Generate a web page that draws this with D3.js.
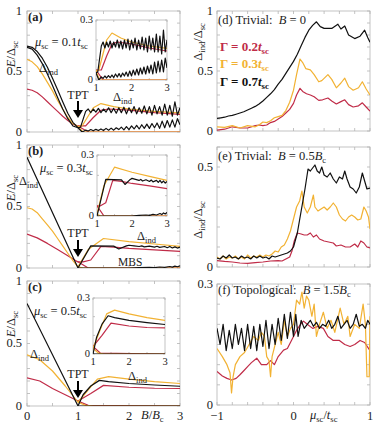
<!DOCTYPE html>
<html>
<head>
<meta charset="UTF-8">
<style>
  body { margin: 0; background: #fff; }
  svg text { fill: #222; white-space: pre; }
  .frame { fill: none; stroke: #b4b4b4; stroke-width: 0.8; }
  .tick { stroke: #b4b4b4; stroke-width: 0.8; }
  .curve { fill: none; stroke-width: 1.2; stroke-linejoin: round; }
</style>
</head>
<body>
<script src="https://cdn.jsdelivr.net/npm/d3@7"></script>
<script>
var RED = "#c02c48", YEL = "#f2b233", BLK = "#111111";
var FONT = "'Liberation Serif', 'DejaVu Serif', serif";

// ---- left column: E / Delta_sc vs B / B_c ----
// (a) mu_sc = 0.1 t_sc
var aBlackUp = [[0,0.71],[0.1,0.7],[0.2,0.665],[0.3,0.61],[0.4,0.535],[0.5,0.445],[0.6,0.35],[0.7,0.25],[0.8,0.155],[0.9,0.08],[1.0,0.035],[1.05,0.04],
  [1.15,0.17],[1.2,0.19],[1.25,0.16],[1.3,0.19],[1.35,0.165],[1.4,0.195],[1.45,0.16],[1.5,0.19],[1.55,0.165],[1.6,0.2],[1.65,0.16],[1.7,0.195],
  [1.75,0.155],[1.8,0.2],[1.85,0.16],[1.9,0.205],[1.95,0.15],[2.0,0.2],[2.05,0.16],[2.1,0.21],[2.15,0.15],[2.2,0.2],[2.25,0.155],[2.3,0.215],
  [2.35,0.15],[2.4,0.21],[2.45,0.14],[2.5,0.22],[2.55,0.15],[2.6,0.21],[2.65,0.14],[2.7,0.23],[2.75,0.14],[2.8,0.22],[2.85,0.13],[2.9,0.25],[2.95,0.14],[3.0,0.2]];
var aBlackLow = [[0,0.7],[0.1,0.685],[0.2,0.635],[0.3,0.565],[0.4,0.48],[0.5,0.385],[0.6,0.285],[0.7,0.19],[0.8,0.11],[0.9,0.05],[1.0,0.035],[1.08,0.0],
  [1.15,0.015],[1.2,0.008],[1.25,0.02],[1.3,0.01],[1.35,0.022],[1.4,0.012],[1.45,0.025],[1.5,0.012],[1.55,0.03],[1.6,0.015],[1.65,0.032],[1.7,0.015],
  [1.75,0.035],[1.8,0.02],[1.85,0.04],[1.9,0.018],[1.95,0.045],[2.0,0.02],[2.05,0.05],[2.1,0.025],[2.15,0.055],[2.2,0.025],[2.25,0.06],[2.3,0.03],
  [2.35,0.065],[2.4,0.03],[2.45,0.07],[2.5,0.035],[2.55,0.075],[2.6,0.03],[2.65,0.09],[2.7,0.035],[2.75,0.095],[2.8,0.04],[2.85,0.1],[2.9,0.04],[2.95,0.11],[3.0,0.06]];
var aYellowUp = [[0,0.6],[0.1,0.58],[0.2,0.54],[0.3,0.48],[0.4,0.41],[0.5,0.34],[0.6,0.26],[0.7,0.19],[0.8,0.12],[0.9,0.07],[1.0,0.045],[1.08,0.05],
  [1.3,0.2],[1.45,0.235],[1.7,0.21],[2.0,0.19],[2.5,0.17],[3.0,0.158]];
var aYellowLow = [[1.0,0.045],[1.1,0.0],[3.0,0.0]];
var aRedUp = [[0,0.355],[0.1,0.345],[0.2,0.325],[0.3,0.29],[0.4,0.25],[0.5,0.21],[0.6,0.17],[0.7,0.13],[0.8,0.095],[0.9,0.065],[1.0,0.05],[1.15,0.05],
  [1.3,0.12],[1.45,0.18],[1.6,0.19],[2.0,0.18],[2.5,0.16],[3.0,0.145]];
var aRedLow = [[1.0,0.05],[1.2,0.0],[3.0,0.0]];

// (b) mu_sc = 0.3 t_sc
var bBlackUp = [[0,0.9],[1.0,0.0],[1.25,0.18],[1.7,0.178],[1.8,0.155],[1.95,0.18],[2.0,0.185],[2.1,0.18],[2.2,0.175],[2.25,0.18],[2.3,0.172],
  [2.4,0.178],[2.5,0.17],[2.55,0.177],[2.6,0.168],[2.7,0.175],[2.75,0.165],[2.8,0.175],[2.85,0.163],[2.9,0.172],[2.95,0.162],[3.0,0.17]];
var bBlackLow = [[1.0,0.0],[2.0,0.0],[2.2,0.003],[2.4,0.005],[2.5,0.003],[2.6,0.008],[2.7,0.005],[2.8,0.012],[2.85,0.007],[2.9,0.015],[2.95,0.01],[3.0,0.018]];
var bYellowUp = [[0,0.49],[0.1,0.48],[0.2,0.45],[0.3,0.4],[0.4,0.35],[0.5,0.3],[0.6,0.24],[0.7,0.18],[0.8,0.12],[0.9,0.06],[1.0,0.01],
  [1.2,0.15],[1.5,0.24],[2.0,0.215],[2.5,0.195],[3.0,0.175]];
var bYellowLow = [[1.0,0.01],[1.1,0.0],[3.0,0.0]];
var bRedUp = [[0,0.275],[0.2,0.245],[0.4,0.2],[0.6,0.15],[0.8,0.1],[0.95,0.06],[1.0,0.05],[1.1,0.05],[1.25,0.065],[1.45,0.175],[1.7,0.17],
  [2.0,0.16],[2.5,0.148],[3.0,0.135]];
var bRedLow = [[1.0,0.05],[1.2,0.0],[3.0,0.0]];

// (c) mu_sc = 0.5 t_sc
var cBlackUp = [[0,0.82],[1.0,0.0],[1.1,0.09],[1.25,0.16],[1.42,0.205],[1.6,0.195],[2.0,0.18],[2.5,0.168],[3.0,0.158]];
var cBlackLow = [[1.0,0.0],[3.0,0.0]];
var cYellowUp = [[0,0.41],[0.25,0.37],[0.5,0.28],[0.75,0.16],[1.0,0.03],[1.2,0.13],[1.38,0.215],[1.6,0.235],[2.0,0.215],[2.5,0.195],[3.0,0.18]];
var cYellowLow = [[1.0,0.03],[1.15,0.005],[1.3,0.0],[3.0,0.0]];
var cRedUp = [[0,0.225],[0.25,0.2],[0.5,0.14],[0.75,0.09],[1.0,0.04],[1.25,0.1],[1.5,0.165],[2.0,0.15],[2.5,0.142],[3.0,0.14]];
var cRedLow = [[1.0,0.04],[1.2,0.005],[3.0,0.0]];

// ---- right column: Delta_ind / Delta_sc vs mu_sc / t_sc ----
var dBlack = [[-1,0.105],[-0.95,0.11],[-0.9,0.115],[-0.85,0.125],[-0.8,0.13],[-0.75,0.14],[-0.7,0.15],[-0.65,0.16],[-0.6,0.175],[-0.55,0.19],
  [-0.5,0.205],[-0.45,0.225],[-0.4,0.25],[-0.35,0.28],[-0.3,0.31],[-0.25,0.345],[-0.2,0.39],[-0.15,0.43],[-0.1,0.48],[-0.05,0.53],[0,0.58],
  [0.05,0.64],[0.1,0.71],[0.15,0.78],[0.2,0.84],[0.25,0.88],[0.3,0.91],[0.35,0.87],[0.4,0.855],[0.5,0.855],[0.58,0.89],[0.62,0.85],
  [0.67,0.875],[0.72,0.8],[0.8,0.77],[0.87,0.79],[0.93,0.84],[0.97,0.78],[1.0,0.74]];
var dYellow = [[-1,0.035],[-0.9,0.03],[-0.8,0.045],[-0.7,0.025],[-0.6,0.045],[-0.5,0.035],[-0.45,0.05],[-0.4,0.075],[-0.35,0.07],[-0.3,0.085],
  [-0.25,0.11],[-0.2,0.12],[-0.15,0.13],[-0.1,0.17],[-0.05,0.24],[0,0.34],[0.04,0.47],[0.085,0.6],[0.12,0.57],[0.16,0.52],[0.22,0.51],
  [0.27,0.47],[0.33,0.41],[0.37,0.42],[0.45,0.47],[0.5,0.43],[0.56,0.36],[0.62,0.4],[0.67,0.44],[0.72,0.37],[0.78,0.34],[0.85,0.36],
  [0.9,0.41],[0.95,0.35],[1.0,0.3]];
var dRed = [[-1,0.008],[-0.9,0.015],[-0.8,0.035],[-0.7,0.025],[-0.6,0.025],[-0.5,0.045],[-0.45,0.05],[-0.4,0.045],[-0.35,0.05],[-0.3,0.07],
  [-0.25,0.08],[-0.2,0.1],[-0.15,0.12],[-0.1,0.15],[-0.05,0.18],[0,0.23],[0.04,0.3],[0.085,0.355],[0.12,0.33],[0.17,0.31],[0.22,0.3],
  [0.27,0.285],[0.33,0.255],[0.38,0.26],[0.45,0.275],[0.5,0.25],[0.56,0.225],[0.62,0.245],[0.67,0.26],[0.72,0.22],[0.78,0.2],[0.85,0.21],
  [0.9,0.235],[0.95,0.2],[1.0,0.165]];

var eBlack = [[-1,0.045],[-0.96,0.04],[-0.92,0.055],[-0.88,0.045],[-0.84,0.06],[-0.8,0.045],[-0.76,0.05],[-0.72,0.04],[-0.68,0.055],[-0.64,0.045],
  [-0.6,0.05],[-0.56,0.04],[-0.52,0.055],[-0.48,0.045],[-0.44,0.055],[-0.4,0.045],[-0.36,0.05],[-0.32,0.04],[-0.28,0.055],[-0.24,0.05],
  [-0.2,0.055],[-0.16,0.06],[-0.12,0.065],[-0.08,0.07],[-0.04,0.08],[0,0.1],[0.05,0.17],[0.1,0.28],[0.15,0.39],[0.19,0.49],[0.22,0.48],
  [0.26,0.5],[0.28,0.51],[0.31,0.48],[0.34,0.47],[0.37,0.5],[0.4,0.46],[0.44,0.45],[0.48,0.47],[0.52,0.44],[0.56,0.42],[0.6,0.45],
  [0.64,0.44],[0.67,0.48],[0.7,0.44],[0.74,0.4],[0.78,0.39],[0.82,0.37],[0.86,0.4],[0.9,0.47],[0.93,0.43],[0.96,0.39],[1.0,0.395]];
var eYellow = [[-1,0.05],[-0.96,0.04],[-0.92,0.055],[-0.88,0.04],[-0.84,0.05],[-0.8,0.045],[-0.76,0.055],[-0.72,0.04],[-0.68,0.05],[-0.64,0.04],
  [-0.6,0.06],[-0.56,0.045],[-0.52,0.055],[-0.48,0.05],[-0.44,0.06],[-0.4,0.05],[-0.36,0.06],[-0.32,0.055],[-0.28,0.065],[-0.24,0.08],
  [-0.2,0.075],[-0.16,0.1],[-0.12,0.11],[-0.08,0.14],[-0.04,0.18],[0,0.24],[0.04,0.3],[0.08,0.33],[0.11,0.38],[0.14,0.3],[0.18,0.27],
  [0.22,0.3],[0.26,0.36],[0.28,0.3],[0.32,0.28],[0.36,0.29],[0.4,0.3],[0.44,0.285],[0.48,0.3],[0.52,0.32],[0.56,0.3],[0.6,0.26],
  [0.64,0.24],[0.68,0.23],[0.72,0.25],[0.76,0.26],[0.8,0.25],[0.84,0.235],[0.88,0.24],[0.92,0.3],[0.95,0.28],[0.98,0.25],[1.0,0.19]];
var eRed = [[-1,0.032],[-0.9,0.028],[-0.8,0.025],[-0.7,0.02],[-0.6,0.018],[-0.5,0.022],[-0.4,0.025],[-0.3,0.03],[-0.2,0.032],[-0.15,0.03],
  [-0.1,0.04],[-0.05,0.05],[-0.02,0.08],[0.01,0.13],[0.05,0.17],[0.1,0.165],[0.14,0.16],[0.18,0.16],[0.22,0.17],[0.26,0.15],[0.3,0.16],
  [0.34,0.14],[0.4,0.13],[0.46,0.125],[0.52,0.12],[0.56,0.105],[0.62,0.11],[0.68,0.1],[0.74,0.1],[0.8,0.115],[0.84,0.1],[0.88,0.13],
  [0.92,0.12],[0.96,0.1],[1.0,0.095]];

var fBlack = [[-1,0.19],[-0.96,0.15],[-0.92,0.2],[-0.88,0.135],[-0.84,0.185],[-0.8,0.14],[-0.76,0.2],[-0.72,0.15],[-0.68,0.19],[-0.64,0.135],
  [-0.6,0.2],[-0.56,0.14],[-0.52,0.195],[-0.48,0.135],[-0.44,0.2],[-0.4,0.145],[-0.36,0.21],[-0.32,0.14],[-0.28,0.2],[-0.24,0.15],
  [-0.2,0.215],[-0.16,0.16],[-0.12,0.225],[-0.08,0.165],[-0.04,0.23],[0,0.17],[0.03,0.225],[0.06,0.17],[0.1,0.21],[0.14,0.19],[0.18,0.2],
  [0.22,0.21],[0.26,0.195],[0.3,0.205],[0.34,0.19],[0.38,0.2],[0.42,0.195],[0.46,0.21],[0.5,0.19],[0.54,0.2],[0.58,0.22],[0.62,0.19],
  [0.66,0.2],[0.7,0.21],[0.74,0.19],[0.78,0.2],[0.82,0.225],[0.86,0.195],[0.9,0.2],[0.94,0.19],[0.97,0.21],[1.0,0.2]];
var fYellow = [[-1,0.14],[-0.93,0.12],[-0.87,0.1],[-0.83,0.08],[-0.81,0.03],[-0.79,0.07],[-0.76,0.1],[-0.7,0.12],[-0.64,0.13],[-0.58,0.15],
  [-0.52,0.17],[-0.46,0.16],[-0.42,0.18],[-0.38,0.17],[-0.35,0.12],[-0.32,0.11],[-0.3,0.07],[-0.28,0.12],[-0.24,0.15],[-0.2,0.18],
  [-0.16,0.15],[-0.12,0.21],[-0.08,0.17],[-0.04,0.19],[0,0.2],[0.04,0.26],[0.08,0.25],[0.11,0.28],[0.14,0.24],[0.17,0.27],[0.2,0.26],
  [0.24,0.22],[0.27,0.25],[0.3,0.17],[0.34,0.2],[0.39,0.23],[0.44,0.19],[0.49,0.21],[0.54,0.18],[0.61,0.24],[0.66,0.2],[0.71,0.22],
  [0.74,0.17],[0.8,0.2],[0.86,0.19],[0.91,0.25],[0.94,0.2],[0.96,0.07],[0.99,0.07],[1.0,0.22]];
var fRed = [[-1,0.083],[-0.93,0.072],[-0.87,0.066],[-0.81,0.062],[-0.75,0.066],[-0.7,0.075],[-0.65,0.085],[-0.6,0.095],[-0.55,0.105],
  [-0.48,0.116],[-0.42,0.1],[-0.35,0.1],[-0.3,0.11],[-0.25,0.1],[-0.2,0.12],[-0.13,0.136],[-0.08,0.14],[-0.04,0.155],[0,0.17],[0.04,0.185],
  [0.085,0.198],[0.13,0.208],[0.18,0.2],[0.25,0.19],[0.32,0.195],[0.39,0.19],[0.45,0.17],[0.52,0.16],[0.6,0.16],[0.67,0.15],[0.74,0.145],
  [0.8,0.15],[0.87,0.16],[0.93,0.155],[1.0,0.135]];

var svg = d3.select("body").append("svg").attr("width", 390).attr("height", 424);
var defs = svg.append("defs");
var clipCount = 0;

// text with italic / subscript pieces
function mtext(x, y, parts, size, opts) {
  opts = opts || {};
  var t = svg.append("text").attr("x", x).attr("y", y).attr("font-size", size)
    .style("font-family", FONT).attr("text-anchor", opts.anchor || "start");
  if (opts.rotate) t.attr("transform", "rotate(-90," + x + "," + y + ")");
  if (opts.fill) t.style("fill", opts.fill);
  if (opts.bold) t.attr("font-weight", "bold");
  var shift = 0;
  parts.forEach(function(p) {
    var k = p[1] || "";
    var sp = t.append("tspan").text(p[0]);
    var want = k.indexOf("s") >= 0 ? size * 0.25 : 0;
    if (want !== shift) { sp.attr("dy", want - shift); shift = want; }
    if (k.indexOf("s") >= 0) sp.attr("font-size", size * 0.68);
    if (k.indexOf("i") >= 0) sp.attr("font-style", "italic");
  });
  return t;
}

function frame(xs, ys, xt, yt, len) {
  var g = svg.append("g");
  var x0 = xs.range()[0], x1 = xs.range()[1], yb = ys.range()[0], yt0 = ys.range()[1];
  xt.forEach(function(v) {
    g.append("line").attr("class", "tick").attr("x1", xs(v)).attr("x2", xs(v)).attr("y1", yb).attr("y2", yb - len);
    g.append("line").attr("class", "tick").attr("x1", xs(v)).attr("x2", xs(v)).attr("y1", yt0).attr("y2", yt0 + len);
  });
  yt.forEach(function(v) {
    g.append("line").attr("class", "tick").attr("y1", ys(v)).attr("y2", ys(v)).attr("x1", x0).attr("x2", x0 + len);
    g.append("line").attr("class", "tick").attr("y1", ys(v)).attr("y2", ys(v)).attr("x1", x1).attr("x2", x1 - len);
  });
  g.append("rect").attr("class", "frame").attr("x", x0).attr("y", yt0).attr("width", x1 - x0).attr("height", yb - yt0);
  var id = "clip" + (clipCount++);
  defs.append("clipPath").attr("id", id).append("rect")
    .attr("x", x0).attr("y", yt0).attr("width", x1 - x0).attr("height", yb - yt0);
  return "url(#" + id + ")";
}

function curves(xs, ys, clip, list) {
  var line = d3.line().x(function(d) { return xs(d[0]); }).y(function(d) { return ys(d[1]); });
  var g = svg.append("g").attr("clip-path", clip);
  list.forEach(function(c) {
    g.append("path").attr("class", "curve").attr("d", line(c[0])).attr("stroke", c[1]);
  });
}

function tickLabels(xs, ys, xvals, yvals, size, xText, yText, gap, pad) {
  var yb = ys.range()[0], x0 = xs.range()[0];
  xvals.forEach(function(v, i) {
    svg.append("text").attr("x", xs(v)).attr("y", yb + gap).attr("font-size", size).style("font-family", FONT)
      .attr("text-anchor", "middle").text(xText[i]);
  });
  yvals.forEach(function(v, i) {
    svg.append("text").attr("x", x0 - pad).attr("y", ys(v) + size * 0.3).attr("font-size", size).style("font-family", FONT)
      .attr("text-anchor", "end").text(yText[i]);
  });
}

var Eparts = [["E", "i"], ["/Δ"], ["sc", "s"]];
var Dparts = [["Δ"], ["ind", "s"], ["/Δ"], ["sc", "s"]];
var indParts = [["Δ"], ["ind", "s"]];

// ---- left panels ----
var leftPanels = [
  { top: 11, bottom: 132, ins: [96, 167, 20, 80], sets: [aRedUp, aRedLow, aYellowUp, aYellowLow, aBlackUp, aBlackLow], tag: "(a)" },
  { top: 145, bottom: 268, ins: [97, 167, 155, 216], sets: [bRedUp, bRedLow, bYellowUp, bYellowLow, bBlackUp, bBlackLow], tag: "(b)" },
  { top: 281, bottom: 406, ins: [93, 165, 298, 354], sets: [cRedUp, cRedLow, cYellowUp, cYellowLow, cBlackUp, cBlackLow], tag: "(c)" }
];
var colorOrder = [RED, RED, YEL, YEL, BLK, BLK];

leftPanels.forEach(function(p, idx) {
  var xs = d3.scaleLinear().domain([0, 3]).range([27, 180]);
  var ys = d3.scaleLinear().domain([0, 1]).range([p.bottom, p.top]);
  var clip = frame(xs, ys, d3.range(0, 3.01, 0.5), d3.range(0, 1.01, 0.1), 3);
  curves(xs, ys, clip, p.sets.map(function(s, i) { return [s, colorOrder[i]]; }));
  tickLabels(xs, ys, idx === 2 ? [0, 1, 2, 3] : [], [0, 0.5, 1], 12.5, ["0", "1", "2", "3"], ["0", "0.5", "1"], 14, 5);
  mtext(15, p.top + 43, Eparts, 12.5, { rotate: true, anchor: "middle" });
  mtext(28, p.top + 10, [[p.tag]], 12.5, { bold: true });

  // inset
  var ix = d3.scaleLinear().domain([1, 3]).range([p.ins[0], p.ins[1]]);
  var iy = d3.scaleLinear().domain([0, 0.3]).range([p.ins[3], p.ins[2]]);
  svg.append("rect").attr("x", p.ins[0]).attr("y", p.ins[2]).attr("width", p.ins[1] - p.ins[0])
    .attr("height", p.ins[3] - p.ins[2]).attr("fill", "#fff");
  var iclip = frame(ix, iy, d3.range(1, 3.01, 0.5), d3.range(0, 0.31, 0.1), 2);
  curves(ix, iy, iclip, p.sets.map(function(s, i) { return [s, colorOrder[i]]; }));
  tickLabels(ix, iy, [1, 2, 3], [0, 0.3], 10.5, ["1", "2", "3"], ["0", "0.3"], 11, 3);
});

// fixed left-panel annotations
var xsL = d3.scaleLinear().domain([0, 3]).range([27, 180]);
mtext(35, 46, [["μ", "i"], ["sc", "s"], [" = 0.1"], ["t", "i"], ["sc", "s"]], 12.5);
mtext(40, 172, [["μ", "i"], ["sc", "s"], [" = 0.3"], ["t", "i"], ["sc", "s"]], 12.5);
mtext(34, 315, [["μ", "i"], ["sc", "s"], [" = 0.5"], ["t", "i"], ["sc", "s"]], 12.5);
mtext(39, 72, indParts, 12.5);
mtext(113, 101, indParts, 12.5);
mtext(19, 185, indParts, 12.5);
mtext(137, 240, indParts, 12.5);
mtext(30, 358, indParts, 12.5);
mtext(128, 380, indParts, 12.5);
mtext(118, 266, [["MBS"]], 11.5);
[[99, 101, 118], [237, 240, 257], [378, 381, 398]].forEach(function(a) {
  var cx = xsL(1);
  mtext(cx, a[0], [["TPT"]], 12, { anchor: "middle" });
  svg.append("line").attr("x1", cx).attr("x2", cx).attr("y1", a[1]).attr("y2", a[2] - 7)
    .attr("stroke", "#000").attr("stroke-width", 2);
  svg.append("path").attr("d", "M" + (cx - 5) + "," + (a[2] - 8) + "L" + (cx + 5) + "," + (a[2] - 8) + "L" + cx + "," + a[2] + "Z")
    .attr("fill", "#000");
});
mtext(141, 419, [["B", "i"], ["/"], ["B", "i"], ["c", "s"]], 12.5);

// ---- right panels ----
var rightPanels = [
  { top: 11, bottom: 131, max: 1, step: 0.1, labs: [0, 0.5, 1], txt: ["0", "0.5", "1"], sets: [dRed, dYellow, dBlack], ylab: 42 },
  { top: 147, bottom: 267, max: 0.6, step: 0.1, labs: [0, 0.5], txt: ["0", "0.5"], sets: [eRed, eYellow, eBlack], ylab: 220 },
  { top: 284, bottom: 405, max: 0.3, step: 0.05, labs: [0, 0.3], txt: ["0", "0.3"], sets: [fRed, fYellow, fBlack], ylab: 0 }
];
rightPanels.forEach(function(p, idx) {
  var xs = d3.scaleLinear().domain([-1, 1]).range([217, 370]);
  var ys = d3.scaleLinear().domain([0, p.max]).range([p.bottom, p.top]);
  var clip = frame(xs, ys, d3.range(-1, 1.01, 0.2), d3.range(0, p.max + 0.001, p.step), 3);
  curves(xs, ys, clip, [[p.sets[0], RED], [p.sets[1], YEL], [p.sets[2], BLK]]);
  tickLabels(xs, ys, idx === 2 ? [-1, 0, 1] : [], p.labs, 12.5, ["−1", "0", "1"], p.txt, 15, 4);
  if (p.ylab) mtext(202, p.ylab, Dparts, 12.5, { rotate: true, anchor: "middle" });
});
mtext(218, 24, [["(d) "], ["Trivial:  "], ["B", "i"], [" = 0"]], 12.5);
mtext(218, 160, [["(e) "], ["Trivial:  "], ["B", "i"], [" = 0.5"], ["B", "i"], ["c", "s"]], 12.5);
mtext(218, 294, [["(f) "], ["Topological:  "], ["B", "i"], [" = 1.5"], ["B", "i"], ["c", "s"]], 12.5);
mtext(310, 419, [["μ", "i"], ["sc", "s"], ["/"], ["t", "i"], ["sc", "s"]], 12.5);

// legend in (d)
var gammaTxt = ["0.2", "0.3", "0.7"], gammaCol = [RED, YEL, BLK], gammaY = [51, 68, 86];
gammaTxt.forEach(function(g, i) {
  mtext(220, gammaY[i], [["Γ = " + g], ["t", "i"], ["sc", "s"]], 13, { bold: true, fill: gammaCol[i] });
});
</script>
</body>
</html>
